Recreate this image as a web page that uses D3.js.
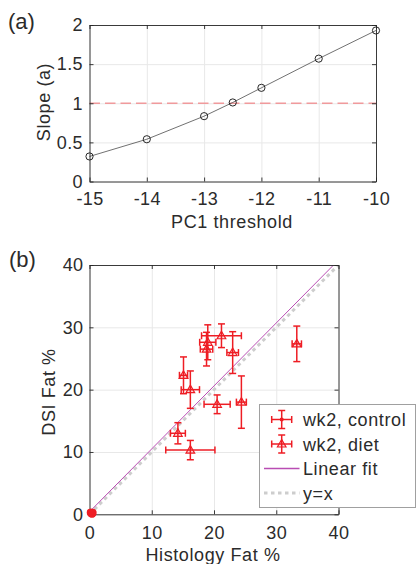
<html lang="en">
<head>
  <meta charset="UTF-8">
  <title>Slope vs PC1 threshold / DSI vs Histology</title>
  <script src="https://d3js.org/d3.v7.min.js"></script>
</head>
<style>
  body { margin: 0; background: #fff; }
  text { font-family: 'Liberation Sans', Arial, Helvetica, sans-serif; fill: #2b2b2b; }
  .tick text { font-size: 18px; letter-spacing: 0.4px; }
  .gridlines line { stroke: #e8e8e8; stroke-width: 1; }
  .gridlines .domain { stroke: none; }
  .axis .domain { stroke: #262626; stroke-width: 0.9; }
  .axis line { stroke: #262626; stroke-width: 0.9; }
  .label { font-size: 18px; letter-spacing: 0.6px; }
  .panel { font-size: 22px; }
</style>
<body>
  <svg class="figsvg" width="417" height="564"></svg>
  <script>
    // panel (a): slope vs PC1 threshold
    const thresholds = [-15, -14, -13, -12.5, -12, -11, -10];
    const slopes = [0.32, 0.54, 0.835, 1.01, 1.197, 1.57, 1.93];
    const slopeRef = 1;
    const aXTicks = [-15, -14, -13, -12, -11, -10];
    const aYTicks = [0, 0.5, 1, 1.5, 2];

    // panel (b): DSI fat vs histology fat, wk2
    const dietX = [33.3, 21.2, 19.0, 18.8, 23.0, 15.1, 16.2, 20.5, 24.4, 14.2, 16.2];
    const dietY = [27.35, 28.65, 27.6, 26.5, 25.95, 22.3, 20.0, 17.65, 18.0, 13.0, 10.3];
    const dietXErr = [0.75, 3.2, 1.3, 1.0, 0.93, 0.65, 1.47, 2.1, 0.8, 1.2, 3.95];
    const dietYErr = [2.85, 1.9, 2.8, 2.7, 3.35, 2.95, 3.0, 1.5, 4.2, 1.7, 1.55];
    const ctrlX = [0.3, 0.5, 0.2, 0.4];
    const ctrlY = [0.15, 0.25, 0.3, 0.1];
    const ctrlXErr = [0.2, 0.2, 0.15, 0.2];
    const ctrlYErr = [0.2, 0.15, 0.2, 0.2];
    const fitSlope = 1.01;
    const fitIntercept = 0.4;
    const bTicks = [0, 10, 20, 30, 40];
    const legendLabels = ['wk2, control', 'wk2, diet', 'Linear fit', 'y=x'];

    const red = '#ee1d24';
    const svg = d3.select('svg.figsvg');
    const plain = d => String(d);

    // draws a MATLAB style box axes with inward ticks
    function boxAxes(xScale, yScale, xTicks, yTicks, xPad, yPad) {
      const [x0, x1] = xScale.range();
      const [y0, y1] = yScale.range();
      const w = x1 - x0, h = y0 - y1;

      svg.append('g').attr('class', 'x gridlines')
        .attr('transform', `translate(0,${y0})`)
        .call(d3.axisBottom(xScale).tickValues(xTicks).tickSize(-h).tickFormat(''));
      svg.append('g').attr('class', 'y gridlines')
        .attr('transform', `translate(${x0},0)`)
        .call(d3.axisLeft(yScale).tickValues(yTicks).tickSize(-w).tickFormat(''));

      const axes = svg.append('g').attr('class', 'axes');
      axes.append('g').attr('class', 'axis')
        .attr('transform', `translate(0,${y0})`)
        .call(d3.axisBottom(xScale).tickValues(xTicks).tickSizeInner(-4).tickSizeOuter(0)
          .tickPadding(xPad).tickFormat(plain));
      axes.append('g').attr('class', 'axis')
        .attr('transform', `translate(0,${y1})`)
        .call(d3.axisTop(xScale).tickValues(xTicks).tickSizeInner(-4).tickSizeOuter(0).tickFormat(''));
      axes.append('g').attr('class', 'axis')
        .attr('transform', `translate(${x0},0)`)
        .call(d3.axisLeft(yScale).tickValues(yTicks).tickSizeInner(-4).tickSizeOuter(0)
          .tickPadding(yPad).tickFormat(plain));
      axes.append('g').attr('class', 'axis')
        .attr('transform', `translate(${x1},0)`)
        .call(d3.axisRight(yScale).tickValues(yTicks).tickSizeInner(-4).tickSizeOuter(0).tickFormat(''));
      return axes;
    }

    // ---------- panel (a)
    const xA = d3.scaleLinear().domain([-15, -10]).range([89.5, 376]);
    const yA = d3.scaleLinear().domain([0, 2]).range([181.5, 25]);
    const axesA = boxAxes(xA, yA, aXTicks, aYTicks, 10.5, 6.5);

    svg.append('line')
      .attr('x1', xA(-15)).attr('x2', xA(-10))
      .attr('y1', yA(slopeRef)).attr('y2', yA(slopeRef))
      .attr('stroke', '#f09a9c').attr('stroke-width', 1.5)
      .attr('stroke-dasharray', '10.5,5');

    const lineA = d3.line().x((d, i) => xA(thresholds[i])).y(d => yA(d));
    svg.append('path').datum(slopes)
      .attr('d', lineA)
      .attr('fill', 'none').attr('stroke', '#333').attr('stroke-width', 0.7);

    slopes.forEach((s, i) => {
      svg.append('circle')
        .attr('cx', xA(thresholds[i])).attr('cy', yA(s))
        .attr('r', 3.6)
        .attr('fill', 'none').attr('stroke', '#111').attr('stroke-width', 0.9);
    });
    axesA.raise();

    svg.append('text').attr('class', 'label')
      .attr('x', 232).attr('y', 228.3).attr('text-anchor', 'middle')
      .text('PC1 threshold');
    svg.append('text').attr('class', 'label')
      .attr('transform', 'translate(50,102) rotate(-90)').attr('text-anchor', 'middle')
      .text('Slope (a)');
    svg.append('text').attr('class', 'panel')
      .attr('x', 8).attr('y', 28.5).text('(a)');

    // ---------- panel (b)
    const xB = d3.scaleLinear().domain([0, 40]).range([89.5, 338.5]);
    const yB = d3.scaleLinear().domain([0, 40]).range([514.3, 265]);
    const axesB = boxAxes(xB, yB, bTicks, bTicks, 12.3, 6);

    svg.append('clipPath').attr('id', 'clipB')
      .append('rect')
      .attr('x', xB(0)).attr('y', yB(40))
      .attr('width', xB(40) - xB(0)).attr('height', yB(0) - yB(40));
    const plotB = svg.append('g').attr('clip-path', 'url(#clipB)');

    plotB.append('line')
      .attr('x1', xB(0)).attr('y1', yB(0))
      .attr('x2', xB(40)).attr('y2', yB(40))
      .attr('stroke', '#cdcdcd').attr('stroke-width', 3)
      .attr('stroke-dasharray', '3.5,3.5');
    plotB.append('line')
      .attr('x1', xB(0)).attr('y1', yB(fitIntercept))
      .attr('x2', xB(40)).attr('y2', yB(fitIntercept + fitSlope * 40))
      .attr('stroke', '#b94db3').attr('stroke-width', 1);

    const cap = 3.5;
    function errorBar(g, cx, cy, x1, x2, y1, y2) {
      const seg = (a, b, c, d) => g.append('line')
        .attr('x1', a).attr('y1', b).attr('x2', c).attr('y2', d)
        .attr('stroke', red).attr('stroke-width', 1.5);
      seg(cx, y1, cx, y2);
      seg(cx - cap, y1, cx + cap, y1);
      seg(cx - cap, y2, cx + cap, y2);
      seg(x1, cy, x2, cy);
      seg(x1, cy - cap, x1, cy + cap);
      seg(x2, cy - cap, x2, cy + cap);
    }
    function triangle(g, cx, cy) {
      g.append('path')
        .attr('d', `M${cx},${cy - 4.5}L${cx + 4.3},${cy + 3}L${cx - 4.3},${cy + 3}Z`)
        .attr('fill', 'rgba(238,29,36,0.15)').attr('stroke', red).attr('stroke-width', 1.2);
    }

    const marks = svg.append('g');
    ctrlX.forEach((x, i) => {
      errorBar(marks, xB(x), yB(ctrlY[i]),
        xB(x - ctrlXErr[i]), xB(x + ctrlXErr[i]),
        yB(ctrlY[i] - ctrlYErr[i]), yB(ctrlY[i] + ctrlYErr[i]));
      marks.append('circle').attr('cx', xB(x)).attr('cy', yB(ctrlY[i]))
        .attr('r', 4).attr('fill', red);
    });
    dietX.forEach((x, i) => {
      errorBar(marks, xB(x), yB(dietY[i]),
        xB(x - dietXErr[i]), xB(x + dietXErr[i]),
        yB(dietY[i] - dietYErr[i]), yB(dietY[i] + dietYErr[i]));
      triangle(marks, xB(x), yB(dietY[i]));
    });
    axesB.raise();
    marks.raise();

    svg.append('text').attr('class', 'label')
      .attr('x', 213).attr('y', 561).attr('text-anchor', 'middle')
      .text('Histology Fat %');
    svg.append('text').attr('class', 'label')
      .attr('transform', 'translate(55,392) rotate(-90)').attr('text-anchor', 'middle')
      .text('DSI Fat %');
    svg.append('text').attr('class', 'panel')
      .attr('x', 9).attr('y', 267).text('(b)');

    // legend
    const legend = svg.append('g');
    legend.append('rect')
      .attr('x', 259.5).attr('y', 404.5).attr('width', 156).attr('height', 103)
      .attr('fill', '#fff').attr('stroke', '#a0a0a0').attr('stroke-width', 1);
    const rowY = [419.5, 444, 468.5, 493];
    const iconX = 281.7;
    errorBar(legend, iconX, rowY[0], iconX - 10, iconX + 10, rowY[0] - 9, rowY[0] + 9);
    legend.append('circle').attr('cx', iconX).attr('cy', rowY[0]).attr('r', 2).attr('fill', red);
    errorBar(legend, iconX, rowY[1], iconX - 10, iconX + 10, rowY[1] - 9, rowY[1] + 9);
    triangle(legend, iconX, rowY[1]);
    legend.append('line')
      .attr('x1', 264).attr('x2', 299.5).attr('y1', rowY[2]).attr('y2', rowY[2])
      .attr('stroke', '#b94db3').attr('stroke-width', 1.5);
    legend.append('line')
      .attr('x1', 264).attr('x2', 299.5).attr('y1', rowY[3]).attr('y2', rowY[3])
      .attr('stroke', '#cdcdcd').attr('stroke-width', 3)
      .attr('stroke-dasharray', '3.5,3.5');
    legendLabels.forEach((t, i) => {
      legend.append('text').attr('class', 'label')
        .attr('x', 303).attr('y', rowY[i] + 6.5)
        .text(t);
    });
  </script>
</body>
</html>
